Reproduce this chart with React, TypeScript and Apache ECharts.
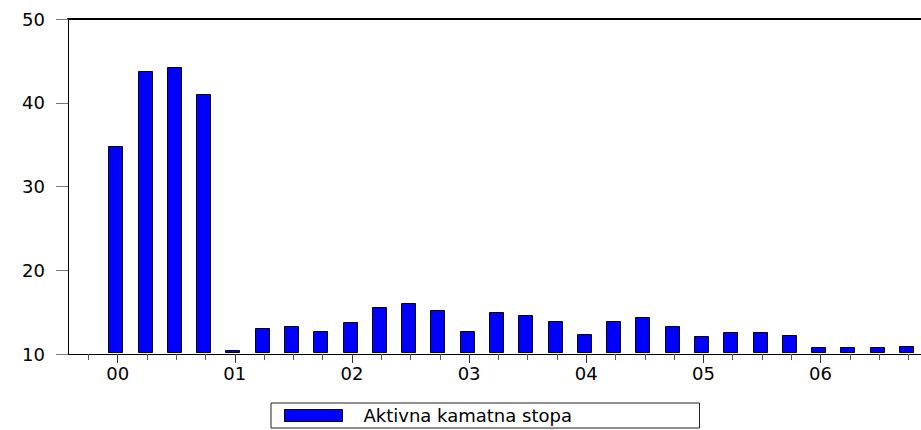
import React, { useEffect, useRef } from "react";
import * as echarts from "echarts";

// Quarterly observations 2000Q1 .. 2006Q4
const quarters = [
  "2000Q1", "2000Q2", "2000Q3", "2000Q4",
  "2001Q1", "2001Q2", "2001Q3", "2001Q4",
  "2002Q1", "2002Q2", "2002Q3", "2002Q4",
  "2003Q1", "2003Q2", "2003Q3", "2003Q4",
  "2004Q1", "2004Q2", "2004Q3", "2004Q4",
  "2005Q1", "2005Q2", "2005Q3", "2005Q4",
  "2006Q1", "2006Q2", "2006Q3", "2006Q4",
];
const aktivnaKamatnaStopa = [
  34.8, 43.8, 44.3, 41.0,
  10.5, 13.1, 13.3, 12.8,
  13.8, 15.65, 16.1, 15.2,
  12.8, 15.0, 14.65, 13.9,
  12.4, 13.9, 14.4, 13.4,
  12.2, 12.6, 12.6, 12.3,
  10.85, 10.85, 10.85, 10.95,
];
const yearLabels = ["00", "01", "02", "03", "04", "05", "06"];
const seriesName = "Aktivna kamatna stopa";
const yTicks = { min: 10, max: 50, interval: 10 };

const BASE = 10.25; // EViews draws bars starting a hair above the axis minimum
const X_MIN = -0.615;
const X_MAX = 28.51;
const TICK_SHIFT = 0.08;
const FONT = "'DejaVu Sans', 'Liberation Sans', Arial, sans-serif";

export default function App() {
  const ref = useRef<HTMLDivElement>(null);

  useEffect(() => {
    if (!ref.current) return;
    const chart = echarts.init(ref.current, null, { renderer: "svg" });

    const positions = quarters.map((_, i) => i + 1);
    const allTicks = [0, ...positions].map((p) => p + TICK_SHIFT);
    const majorTicks = yearLabels.map((_, j) => 1 + 4 * j + TICK_SHIFT);

    const commonX = {
      type: "value" as const,
      min: X_MIN,
      max: X_MAX,
      splitLine: { show: false },
    };

    chart.setOption({
      animation: false,
      backgroundColor: "#ffffff",
      grid: { left: 68, right: 0, top: 19, bottom: 76, containLabel: false },
      xAxis: [
        {
          ...commonX,
          position: "bottom",
          axisLine: { show: true, onZero: false, lineStyle: { color: "#000", width: 1 } },
          axisTick: {
            show: true,
            length: 6,
            customValues: allTicks,
            lineStyle: { color: "#555", width: 1 },
          },
          axisLabel: { show: false },
        },
        {
          ...commonX,
          position: "bottom",
          axisLine: { show: false, onZero: false },
          axisTick: {
            show: true,
            length: 9,
            customValues: majorTicks,
            lineStyle: { color: "#333", width: 1 },
          },
          axisLabel: {
            show: true,
            customValues: majorTicks,
            margin: 10,
            color: "#000",
            fontSize: 18,
            fontFamily: FONT,
            formatter: (val: number) => {
              const j = Math.round((val - TICK_SHIFT - 1) / 4);
              return yearLabels[j] ?? "";
            },
          },
        },
        {
          ...commonX,
          position: "top",
          axisLine: { show: true, onZero: false, lineStyle: { color: "#000", width: 2 } },
          axisTick: { show: false },
          axisLabel: { show: false },
        },
      ],
      yAxis: {
        type: "value",
        min: yTicks.min,
        max: yTicks.max,
        interval: yTicks.interval,
        splitLine: { show: false },
        axisLine: { show: true, onZero: false, lineStyle: { color: "#000", width: 1 } },
        axisTick: { show: true, length: 12, lineStyle: { color: "#777", width: 1 } },
        axisLabel: {
          margin: 23,
          color: "#000",
          fontSize: 18,
          fontFamily: FONT,
        },
      },
      legend: {
        show: true,
        left: 271,
        top: 403,
        orient: "horizontal",
        data: [{ name: seriesName, icon: "rect" }],
        itemWidth: 58,
        itemHeight: 12,
        padding: [3, 3, 3, 13],
        borderColor: "#222",
        borderWidth: 1,
        backgroundColor: "#fff",
        selectedMode: false,
        itemStyle: { color: "#0000ff", borderColor: "#000", borderWidth: 1 },
        textStyle: {
          color: "#000",
          fontSize: 18,
          fontFamily: FONT,
          lineHeight: 19,
          width: 333,
          padding: [0, 0, 0, 16],
        },
      },
      series: [
        {
          name: seriesName,
          type: "custom",
          xAxisIndex: 0,
          yAxisIndex: 0,
          itemStyle: { color: "#0000ff", borderColor: "#000", borderWidth: 1 },
          encode: { x: 0, y: 1 },
          data: aktivnaKamatnaStopa.map((v, i) => [positions[i], v, quarters[i]]),
          renderItem: (params: any, api: any) => {
            const x = api.value(0);
            const v = api.value(1);
            const top = api.coord([x, v]);
            const bottom = api.coord([x, BASE]);
            const w = api.size([1, 0])[0] * 0.48;
            const left = Math.round(top[0] - w / 2) + 0.5;
            const t = Math.round(top[1]) + 0.5;
            const b = Math.round(bottom[1]) + 0.5;
            return {
              type: "rect",
              shape: { x: left, y: t, width: Math.round(w), height: Math.max(1, b - t) },
              style: { fill: "#0000ff", stroke: "#000", lineWidth: 1 },
            };
          },
        },
      ],
    });

    return () => chart.dispose();
  }, []);

  return (
    <div
      ref={ref}
      style={{ position: "fixed", left: 0, top: 0, width: 921, height: 430 }}
    />
  );
}
